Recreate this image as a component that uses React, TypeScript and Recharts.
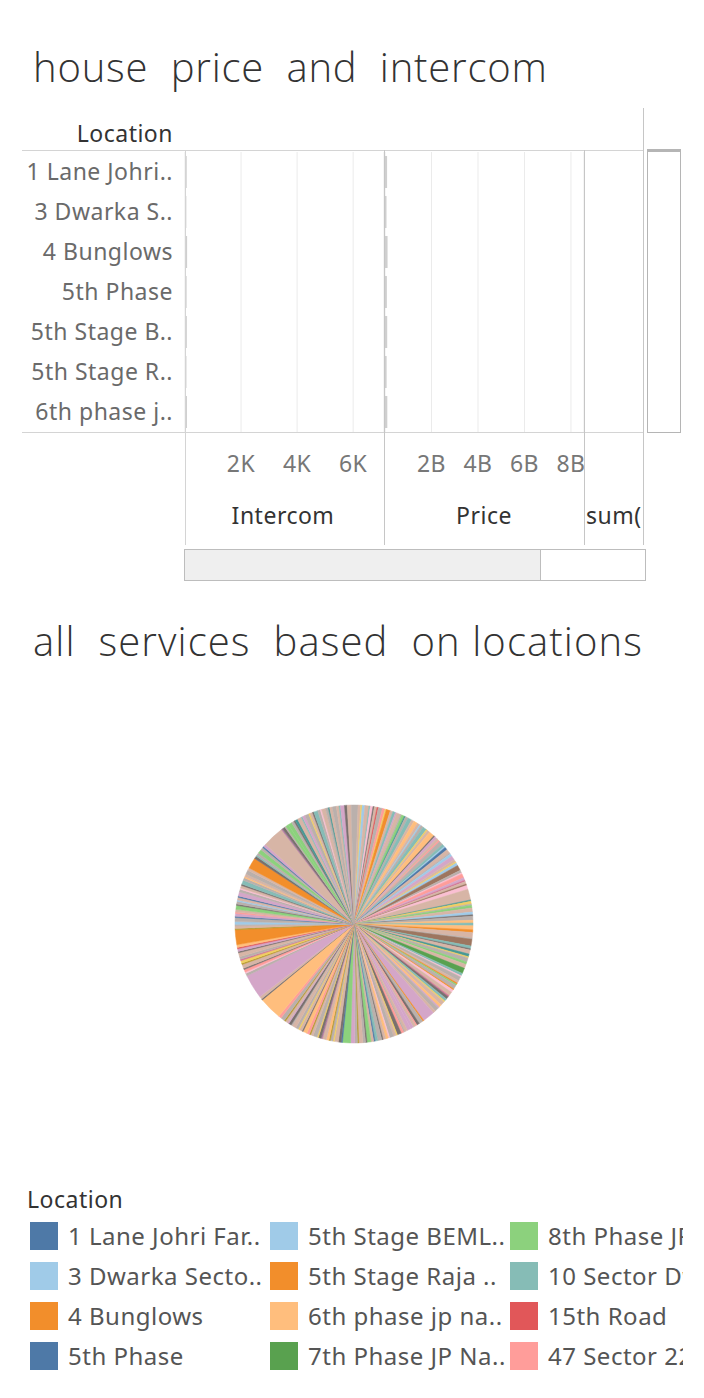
import { Bar, BarChart, CartesianGrid, Cell, Pie, PieChart, XAxis, YAxis } from "recharts";

const FONT = "'Noto Sans', 'Open Sans', sans-serif";
const LIGHT = "'Open Sans', 'Noto Sans', sans-serif";

// top chart: bars per location
const locations = ["1 Lane Johri..", "3 Dwarka S..", "4 Bunglows", "5th Phase", "5th Stage B..", "5th Stage R..", "6th phase j.."];
const intercomValues = [62, 48, 75, 58, 66, 52, 70];
const priceValues = [9.0e7, 6.5e7, 1.1e8, 8.0e7, 9.5e7, 7.0e7, 1.0e8];
const intercomTicks = [2000, 4000, 6000];
const priceTicks = [2e9, 4e9, 6e9, 8e9];

// tableau 20
const palette = [
  "#4e79a7", "#a0cbe8", "#f28e2b", "#ffbe7d", "#59a14f", "#8cd17d", "#b6992d", "#f1ce63", "#499894", "#86bcb6",
  "#e15759", "#ff9d9a", "#79706e", "#bab0ac", "#d37295", "#fabfd2", "#b07aa1", "#d4a6c8", "#9d7660", "#d7b5a6",
];

// pie slices, clockwise from 12 o'clock
const pieValues = [
  3, 2, 1, 2, 3, 1, 2, 1, 2, 1, 3, 2, 1, 3, 2, 2, 1, 3, 1, 2, 1, 2, 3, 2,
  3, 2, 1, 2, 3, 1, 2, 4, 1, 2, 2, 1, 3, 2, 1, 2, 3, 1, 2, 3, 2, 1, 2,
  4, 2, 1, 3, 2, 1, 2, 1, 3, 8, 1, 2, 1, 2, 3, 2, 1, 3, 2, 2,
  3, 2, 4, 1, 5, 2, 1, 3, 2, 1, 3, 2, 3, 4, 2, 1, 3, 2, 1, 1,
  3, 1, 2, 3, 1, 2, 2, 1, 3, 2, 1, 3, 2, 9, 1, 3, 2, 1, 2, 2,
  3, 2, 1, 2, 3, 1, 2, 3, 1, 2, 2, 1, 3, 2, 1, 2, 3, 1, 2, 3, 1, 2, 3,
  6, 1, 2, 3, 1, 2, 1, 2, 3, 1, 2, 1, 3, 2, 1, 2, 3, 1, 2, 1, 2, 3, 1,
  2, 1, 2, 1, 3, 2, 17, 1, 2, 18,
  2, 1, 2, 1, 3, 1, 2, 1, 2, 3, 1, 2, 1, 2, 11, 1, 2, 1,
  2, 3, 1, 2, 1, 2, 3, 1, 2, 1, 2, 1, 3, 2, 1, 2, 1, 3, 2, 1, 2,
  3, 2, 8, 2, 1, 2, 3, 2, 1, 2, 16, 1, 2, 1, 2,
  3, 2, 1, 2, 3, 1, 2, 3, 1, 2, 1, 3, 2, 1, 3, 2, 1, 2, 3, 2, 1, 3, 2, 3, 2,
];
const pieColorIdx = [
  13, 19, 7, 1, 19, 9, 15, 12, 19, 10, 13, 11, 7, 2, 19, 9, 17, 19, 13, 5, 8, 13, 9, 19,
  3, 19, 1, 13, 9, 7, 19, 3, 12, 17, 19, 11, 13, 9, 1, 0, 19, 13, 1, 17, 19, 7, 1,
  18, 13, 15, 11, 17, 14, 19, 18, 15, 19, 8, 7, 13, 5, 19, 1, 12, 13, 3, 9,
  3, 2, 19, 13, 18, 9, 12, 19, 8, 7, 13, 5, 19, 4, 9, 15, 13, 19, 2, 5,
  13, 2, 15, 19, 14, 12, 9, 7, 19, 3, 17, 13, 19, 17, 2, 13, 12, 11, 19, 17,
  17, 19, 13, 11, 12, 7, 19, 13, 15, 3, 19, 12, 13, 9, 0, 19, 5, 12, 13, 19, 6, 13, 17,
  5, 0, 12, 19, 7, 13, 6, 3, 19, 16, 12, 7, 13, 19, 6, 11, 3, 12, 19, 7, 13, 19, 13,
  12, 17, 19, 6, 13, 11, 3, 12, 19, 17,
  13, 15, 11, 12, 19, 6, 7, 14, 13, 19, 12, 17, 10, 3, 2, 6, 19, 13,
  1, 13, 0, 17, 11, 19, 5, 12, 13, 1, 19, 0, 17, 13, 15, 19, 12, 9, 13, 3, 19,
  13, 19, 2, 12, 9, 13, 5, 13, 0, 17, 19, 16, 12, 13, 5,
  5, 13, 12, 8, 19, 9, 17, 13, 7, 19, 12, 9, 13, 15, 19, 13, 8, 19, 13, 19, 9, 17, 12, 19, 13,
];

// legend
const legendLabels = [
  "1 Lane Johri Far..", "3 Dwarka Secto..", "4 Bunglows", "5th Phase",
  "5th Stage BEML..", "5th Stage Raja ..", "6th phase jp na..", "7th Phase JP Na..",
  "8th Phase JP Nagar", "10 Sector Dwarka", "15th Road", "47 Sector 22 Dwarka",
];
const legendColors = [
  "#4e79a7", "#a0cbe8", "#f28e2b", "#4e79a7",
  "#a0cbe8", "#f28e2b", "#ffbe7d", "#59a14f",
  "#8cd17d", "#86bcb6", "#e15759", "#ff9d9a",
];

const barData = locations.map((location, i) => ({ location, intercom: intercomValues[i], price: priceValues[i] }));
const pieData = pieValues.map((value, i) => ({ name: `loc${i}`, value, color: palette[pieColorIdx[i]] }));

const PANE_TOP = 150;
const PANE_H = 282;
const AXIS_H = 70;

function Line({ x, y, w, h, c = "#d4d4d4" }: { x: number; y: number; w: number; h: number; c?: string }) {
  return <div style={{ position: "absolute", left: x, top: y, width: w, height: h, background: c }} />;
}

function Txt({ x, y, size, children, color = "#333", weight = 400, align = "left", width, ls = 0.5, font = FONT }: any) {
  const style: any = {
    position: "absolute",
    top: y - size * 0.6,
    fontSize: size,
    lineHeight: `${size * 1.2}px`,
    color,
    fontWeight: weight,
    letterSpacing: ls,
    whiteSpace: "pre",
    fontFamily: font,
  };
  if (align === "right") style.right = 704 - x;
  else if (align === "center") { style.left = x - 100; style.width = 200; style.textAlign = "center"; }
  else style.left = x;
  if (width) { style.width = width; style.overflow = "hidden"; }
  return <div style={style}>{children}</div>;
}

const tickStyle = { fontSize: 23, fill: "#777", fontFamily: FONT, letterSpacing: 0.5 };

export default function App() {
  return (
    <div style={{ position: "absolute", left: 0, top: 0, width: 704, height: 1398, background: "#fff", overflow: "hidden", fontFamily: FONT }}>
      <Txt x={33} y={67} size={40} weight={300} ls={0.8} font={LIGHT}>{"house  price  and  intercom"}</Txt>

      <Txt x={173} y={134} size={23} align="right">Location</Txt>

      {/* intercom pane with row headers */}
      <div style={{ position: "absolute", left: 0, top: PANE_TOP }}>
        <BarChart width={385} height={PANE_H + AXIS_H} data={barData} layout="vertical" margin={{ top: 2, right: 1, bottom: 0, left: 22 }} barCategoryGap={4}>
          <CartesianGrid horizontal={false} stroke="#ebebeb" />
          <XAxis type="number" domain={[0, 7100]} ticks={intercomTicks} interval={0} height={AXIS_H}
            tickFormatter={(v) => `${v / 1000}K`} tick={tickStyle} tickLine={false} axisLine={false} tickMargin={18} />
          <YAxis type="category" dataKey="location" width={163} tick={{ ...tickStyle, fill: "#6a6a6a" }} tickLine={false} axisLine={false} tickMargin={6} />
          <Bar dataKey="intercom" fill="#cfcfcf" isAnimationActive={false} />
        </BarChart>
      </div>

      {/* price pane (extra right margin leaves room for the 8B label) */}
      <div style={{ position: "absolute", left: 385, top: PANE_TOP }}>
        <BarChart width={225} height={PANE_H + AXIS_H} data={barData} layout="vertical" margin={{ top: 2, right: 26, bottom: 0, left: 0 }} barCategoryGap={4}>
          <CartesianGrid horizontal={false} stroke="#ebebeb" />
          <XAxis type="number" domain={[0, 8.56e9]} ticks={priceTicks} interval={0} height={AXIS_H}
            tickFormatter={(v) => `${v / 1e9}B`} tick={tickStyle} tickLine={false} axisLine={false} tickMargin={18} />
          <YAxis type="category" dataKey="location" hide />
          <Bar dataKey="price" fill="#cfcfcf" isAnimationActive={false} />
        </BarChart>
      </div>

      {/* table lines */}
      <Line x={22} y={150} w={621} h={1} />
      <Line x={22} y={432} w={621} h={1} />
      <Line x={185} y={150} w={1} h={395} />
      <Line x={384} y={150} w={1} h={395} c="#c6c6c6" />
      <Line x={584} y={150} w={1} h={395} c="#c6c6c6" />
      <Line x={643} y={108} w={1} h={437} c="#c6c6c6" />

      {/* scrollbars */}
      <div style={{ position: "absolute", left: 647, top: 149, width: 32, height: 280, border: "1px solid #b5b5b5", borderTopWidth: 3 }} />
      <div style={{ position: "absolute", left: 184, top: 549, width: 460, height: 30, border: "1px solid #bdbdbd" }} />
      <div style={{ position: "absolute", left: 185, top: 550, width: 355, height: 30, background: "#efefef", borderRight: "1px solid #bdbdbd" }} />

      <Txt x={283} y={516} size={23} align="center">Intercom</Txt>
      <Txt x={484} y={516} size={23} align="center">Price</Txt>
      <Txt x={586} y={516} size={23} width={57}>{"sum(Number"}</Txt>

      <Txt x={33} y={641} size={40} weight={300} ls={1.1} font={LIGHT}>{"all  services  based  on locations"}</Txt>

      <div style={{ position: "absolute", left: 0, top: 772 }}>
        <PieChart width={704} height={300}>
          <Pie data={pieData} dataKey="value" nameKey="name" cx={349} cy={147} outerRadius={119} innerRadius={0}
            startAngle={90} endAngle={-270} isAnimationActive={false} stroke="none">
            {pieData.map((d, i) => (
              <Cell key={i} fill={d.color} stroke={d.color} strokeWidth={0.5} />
            ))}
          </Pie>
        </PieChart>
      </div>

      <Txt x={27} y={1200} size={23}>Location</Txt>
      {legendLabels.map((label, i) => {
        const col = Math.floor(i / 4);
        const row = i % 4;
        const x = 30 + col * 240;
        const y = 1236 + row * 40;
        return (
          <div key={label}>
            <div style={{ position: "absolute", left: x, top: y - 14, width: 28, height: 28, background: legendColors[i] }} />
            <Txt x={x + 38} y={y} size={24} color="#555" width={col === 2 ? 683 - (x + 38) : undefined}>{label}</Txt>
          </div>
        );
      })}
    </div>
  );
}
